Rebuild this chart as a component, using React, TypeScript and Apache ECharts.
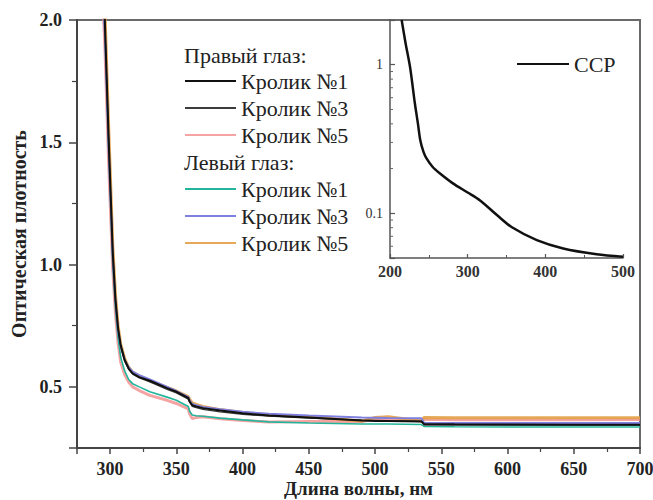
import React, { useEffect, useRef } from "react";
import * as echarts from "echarts";

const FONT = '"Liberation Serif", "DejaVu Serif", serif';

// Main chart: wavelength (nm)
const wavelengths = [293, 296, 299, 302, 304, 306, 308, 311, 314, 317, 322, 330, 343, 350, 359, 360, 362, 365, 370, 383, 400, 420, 450, 490, 500, 510, 535, 537, 560, 600, 650, 700];

// Right eye
const rightRabbit1 = [2.3, 2.0, 1.5, 1.05, 0.86, 0.74, 0.67, 0.61, 0.575, 0.555, 0.54, 0.525, 0.495, 0.48, 0.455, 0.44, 0.425, 0.42, 0.413, 0.403, 0.392, 0.383, 0.375, 0.362, 0.36, 0.36, 0.358, 0.348, 0.347, 0.346, 0.345, 0.345];
const rightRabbit3 = [2.3, 1.98, 1.48, 1.04, 0.85, 0.735, 0.665, 0.605, 0.572, 0.552, 0.537, 0.52, 0.49, 0.475, 0.45, 0.437, 0.42, 0.415, 0.408, 0.398, 0.388, 0.38, 0.372, 0.364, 0.363, 0.362, 0.36, 0.344, 0.344, 0.344, 0.344, 0.344];
const rightRabbit5 = [2.25, 1.9, 1.4, 0.98, 0.8, 0.68, 0.6, 0.55, 0.52, 0.5, 0.485, 0.465, 0.445, 0.432, 0.41, 0.39, 0.37, 0.375, 0.378, 0.37, 0.362, 0.356, 0.358, 0.358, 0.368, 0.37, 0.36, 0.368, 0.366, 0.366, 0.366, 0.367];
// Left eye
const leftRabbit1 = [2.3, 1.95, 1.45, 1.0, 0.82, 0.7, 0.62, 0.565, 0.53, 0.513, 0.5, 0.48, 0.458, 0.445, 0.42, 0.4, 0.385, 0.382, 0.38, 0.372, 0.365, 0.357, 0.352, 0.348, 0.348, 0.348, 0.346, 0.338, 0.337, 0.336, 0.336, 0.336];
const leftRabbit3 = [2.25, 1.95, 1.45, 1.03, 0.85, 0.73, 0.665, 0.61, 0.58, 0.562, 0.548, 0.53, 0.5, 0.483, 0.458, 0.445, 0.43, 0.425, 0.418, 0.408, 0.398, 0.39, 0.383, 0.375, 0.374, 0.373, 0.372, 0.353, 0.352, 0.352, 0.352, 0.352];
const leftRabbit5 = [2.4, 2.05, 1.55, 1.08, 0.88, 0.75, 0.675, 0.615, 0.58, 0.56, 0.545, 0.525, 0.498, 0.483, 0.46, 0.45, 0.435, 0.428, 0.42, 0.407, 0.395, 0.385, 0.378, 0.36, 0.375, 0.378, 0.36, 0.375, 0.374, 0.374, 0.374, 0.374];

// Inset: CCP (log scale)
const ccpWavelengths = [215, 220, 226, 232, 236, 239, 243, 247, 255, 264, 281, 300, 316, 338, 357, 389, 423, 466, 500];
const ccpValues = [2.0, 1.4, 0.95, 0.55, 0.4, 0.31, 0.26, 0.234, 0.205, 0.186, 0.159, 0.138, 0.122, 0.097, 0.0805, 0.066, 0.058, 0.053, 0.051];
const insetMinorTicks = [0.06, 0.07, 0.08, 0.09, 0.2, 0.3, 0.4, 0.5, 0.6, 0.7, 0.8, 0.9];

const legendLabels: Record<string, string> = {
  R1: "Кролик №1",
  R3: "Кролик №3",
  R5: "Кролик №5",
  L1: "Кролик №1",
  L3: "Кролик №3",
  L5: "Кролик №5",
  CCP: "CCP",
};
const headingRight = "Правый глаз:";
const headingLeft = "Левый глаз:";

const INSET_X_MIN = 200;

function pairs(xs: number[], ys: number[]) {
  return xs.map((x, i) => [x, ys[i]]);
}

export default function App() {
  const ref = useRef<HTMLDivElement>(null);
  useEffect(() => {
    if (!ref.current) return;
    const chart = echarts.init(ref.current, null, { renderer: "svg" });
    const axisColor = "#444";
    const lineSeries = (name: string, data: number[], color: string, width: number, z: number) => ({
      name,
      type: "line",
      xAxisIndex: 0,
      yAxisIndex: 0,
      data: pairs(wavelengths, data),
      symbol: "none",
      showSymbol: false,
      lineStyle: { color, width },
      itemStyle: { color },
      z,
    });
    const legendCommon = {
      orient: "vertical",
      padding: 0,
      itemHeight: 14,
      itemTextGap: 4,
      selectedMode: false,
      formatter: (n: string) => legendLabels[n],
      itemStyle: { color: "rgba(0,0,0,0)", borderColor: "rgba(0,0,0,0)", borderWidth: 0 },
    };
    const option: any = {
      animation: false,
      backgroundColor: "#ffffff",
      textStyle: { fontFamily: FONT },
      grid: [
        { left: 77, top: 20, right: 13, bottom: 52, show: true, borderColor: "#6a6a6a", borderWidth: 2, containLabel: false, outerBoundsMode: "none" },
        { left: 390, top: 20, width: 233, height: 238, containLabel: false, outerBoundsMode: "none" },
      ],
      xAxis: [
        {
          gridIndex: 0,
          type: "value",
          min: 275,
          max: 700,
          splitNumber: 8,
          splitLine: { show: false },
          axisLine: { show: true, onZero: false, lineStyle: { color: axisColor, width: 2 } },
          axisTick: { show: true, length: 6, lineStyle: { color: axisColor, width: 1.5 } },
          minorTick: { show: true, splitNumber: 2, length: 4, lineStyle: { color: axisColor, width: 1.2 } },
          axisLabel: {
            fontSize: 18,
            fontWeight: "bold",
            color: "#222",
            fontFamily: FONT,
            margin: 12,
            formatter: (v: number) => (Math.abs(v % 50) < 1e-6 ? String(v) : ""),
          },
          name: "Длина волны, нм",
          nameLocation: "middle",
          nameGap: 31,
          nameMoveOverlap: false,
          nameTextStyle: { fontSize: 19, fontWeight: "bold", color: "#222", fontFamily: FONT },
        },
        {
          gridIndex: 1,
          type: "value",
          min: INSET_X_MIN,
          max: 500,
          interval: 100,
          splitLine: { show: false },
          axisLine: { show: true, onZero: false, lineStyle: { color: "#555", width: 1.5 } },
          axisTick: { show: true, inside: true, length: 4, lineStyle: { color: "#555", width: 1.2 } },
          minorTick: { show: true, splitNumber: 2, length: 3, lineStyle: { color: "#555", width: 1 } },
          axisLabel: { fontSize: 16, fontWeight: "bold", color: "#333", fontFamily: FONT, margin: 5 },
        },
      ],
      yAxis: [
        {
          gridIndex: 0,
          type: "value",
          min: 0.25,
          max: 2.0,
          splitNumber: 4,
          splitLine: { show: false },
          axisLine: { show: true, onZero: false, lineStyle: { color: axisColor, width: 2 } },
          axisTick: { show: true, length: 8, lineStyle: { color: axisColor, width: 1.5 } },
          minorTick: { show: true, splitNumber: 2, length: 5, lineStyle: { color: axisColor, width: 1.2 } },
          axisLabel: {
            fontSize: 18,
            fontWeight: "bold",
            color: "#222",
            fontFamily: FONT,
            margin: 15,
            formatter: (v: number) => (Math.abs((v * 2) % 1) < 1e-6 ? v.toFixed(1) : ""),
          },
          name: "Оптическая плотность",
          nameLocation: "middle",
          nameGap: 48,
          nameMoveOverlap: false,
          nameTextStyle: { fontSize: 20, fontWeight: "bold", color: "#222", fontFamily: FONT },
        },
        {
          gridIndex: 1,
          type: "log",
          logBase: 10,
          min: 0.05,
          max: 2,
          splitLine: { show: false },
          axisLine: { show: true, onZero: false, lineStyle: { color: "#555", width: 1.5 } },
          axisTick: { show: true, inside: true, length: 5, lineStyle: { color: "#555", width: 1.2 } },
          minorTick: { show: false },
          axisLabel: {
            fontSize: 14,
            color: "#333",
            fontFamily: FONT,
            margin: 7,
            formatter: (v: number) => (Math.abs(v - 1) < 1e-6 ? "1" : Math.abs(v - 0.1) < 1e-6 ? "0.1" : ""),
          },
        },
      ],
      legend: [
        {
          ...legendCommon,
          data: ["R1", "R3", "R5"],
          left: 184,
          top: 70,
          itemWidth: 51,
          itemGap: 5,
          textStyle: { fontSize: 22, lineHeight: 22, color: "#222", fontFamily: FONT },
        },
        {
          ...legendCommon,
          data: ["L1", "L3", "L5"],
          left: 184,
          top: 178,
          itemWidth: 51,
          itemGap: 5,
          textStyle: { fontSize: 22, lineHeight: 22, color: "#222", fontFamily: FONT },
        },
        {
          ...legendCommon,
          data: ["CCP"],
          left: 516,
          top: 53,
          itemWidth: 52,
          itemTextGap: 3,
          textStyle: { fontSize: 22, lineHeight: 22, color: "#222", fontFamily: FONT },
        },
      ],
      graphic: [
        { type: "text", x: 184, y: 55, style: { text: headingRight, fontSize: 22, fontFamily: FONT, fill: "#222", verticalAlign: "middle" } },
        { type: "text", x: 184, y: 162, style: { text: headingLeft, fontSize: 22, fontFamily: FONT, fill: "#222", verticalAlign: "middle" } },
      ],
      series: [
        lineSeries("R5", rightRabbit5, "rgba(244,140,140,0.8)", 3, 1),
        lineSeries("L5", leftRabbit5, "rgba(226,160,70,0.9)", 3, 2),
        lineSeries("L1", leftRabbit1, "#22b59b", 1.6, 3),
        lineSeries("L3", leftRabbit3, "#7f7fdf", 2, 4),
        lineSeries("R3", rightRabbit3, "#3c3c3c", 1.3, 5),
        lineSeries("R1", rightRabbit1, "#111111", 2, 6),
        {
          name: "CCP",
          type: "line",
          xAxisIndex: 1,
          yAxisIndex: 1,
          data: pairs(ccpWavelengths, ccpValues),
          symbol: "none",
          showSymbol: false,
          smooth: 0.3,
          lineStyle: { color: "#111", width: 2.5 },
          itemStyle: { color: "#111" },
        },
        {
          name: "insetMinorTicks",
          type: "custom",
          xAxisIndex: 1,
          yAxisIndex: 1,
          silent: true,
          data: insetMinorTicks.map((v) => [INSET_X_MIN, v]),
          renderItem: (_p: any, api: any) => {
            const pt = api.coord([api.value(0), api.value(1)]);
            return {
              type: "line",
              shape: { x1: pt[0], y1: pt[1], x2: pt[0] + 3, y2: pt[1] },
              style: { stroke: "#666", lineWidth: 1 },
            };
          },
        },
      ],
    };
    chart.setOption(option);
    return () => chart.dispose();
  }, []);
  return <div ref={ref} style={{ width: 653, height: 500, position: "absolute", left: 0, top: 0 }} />;
}
